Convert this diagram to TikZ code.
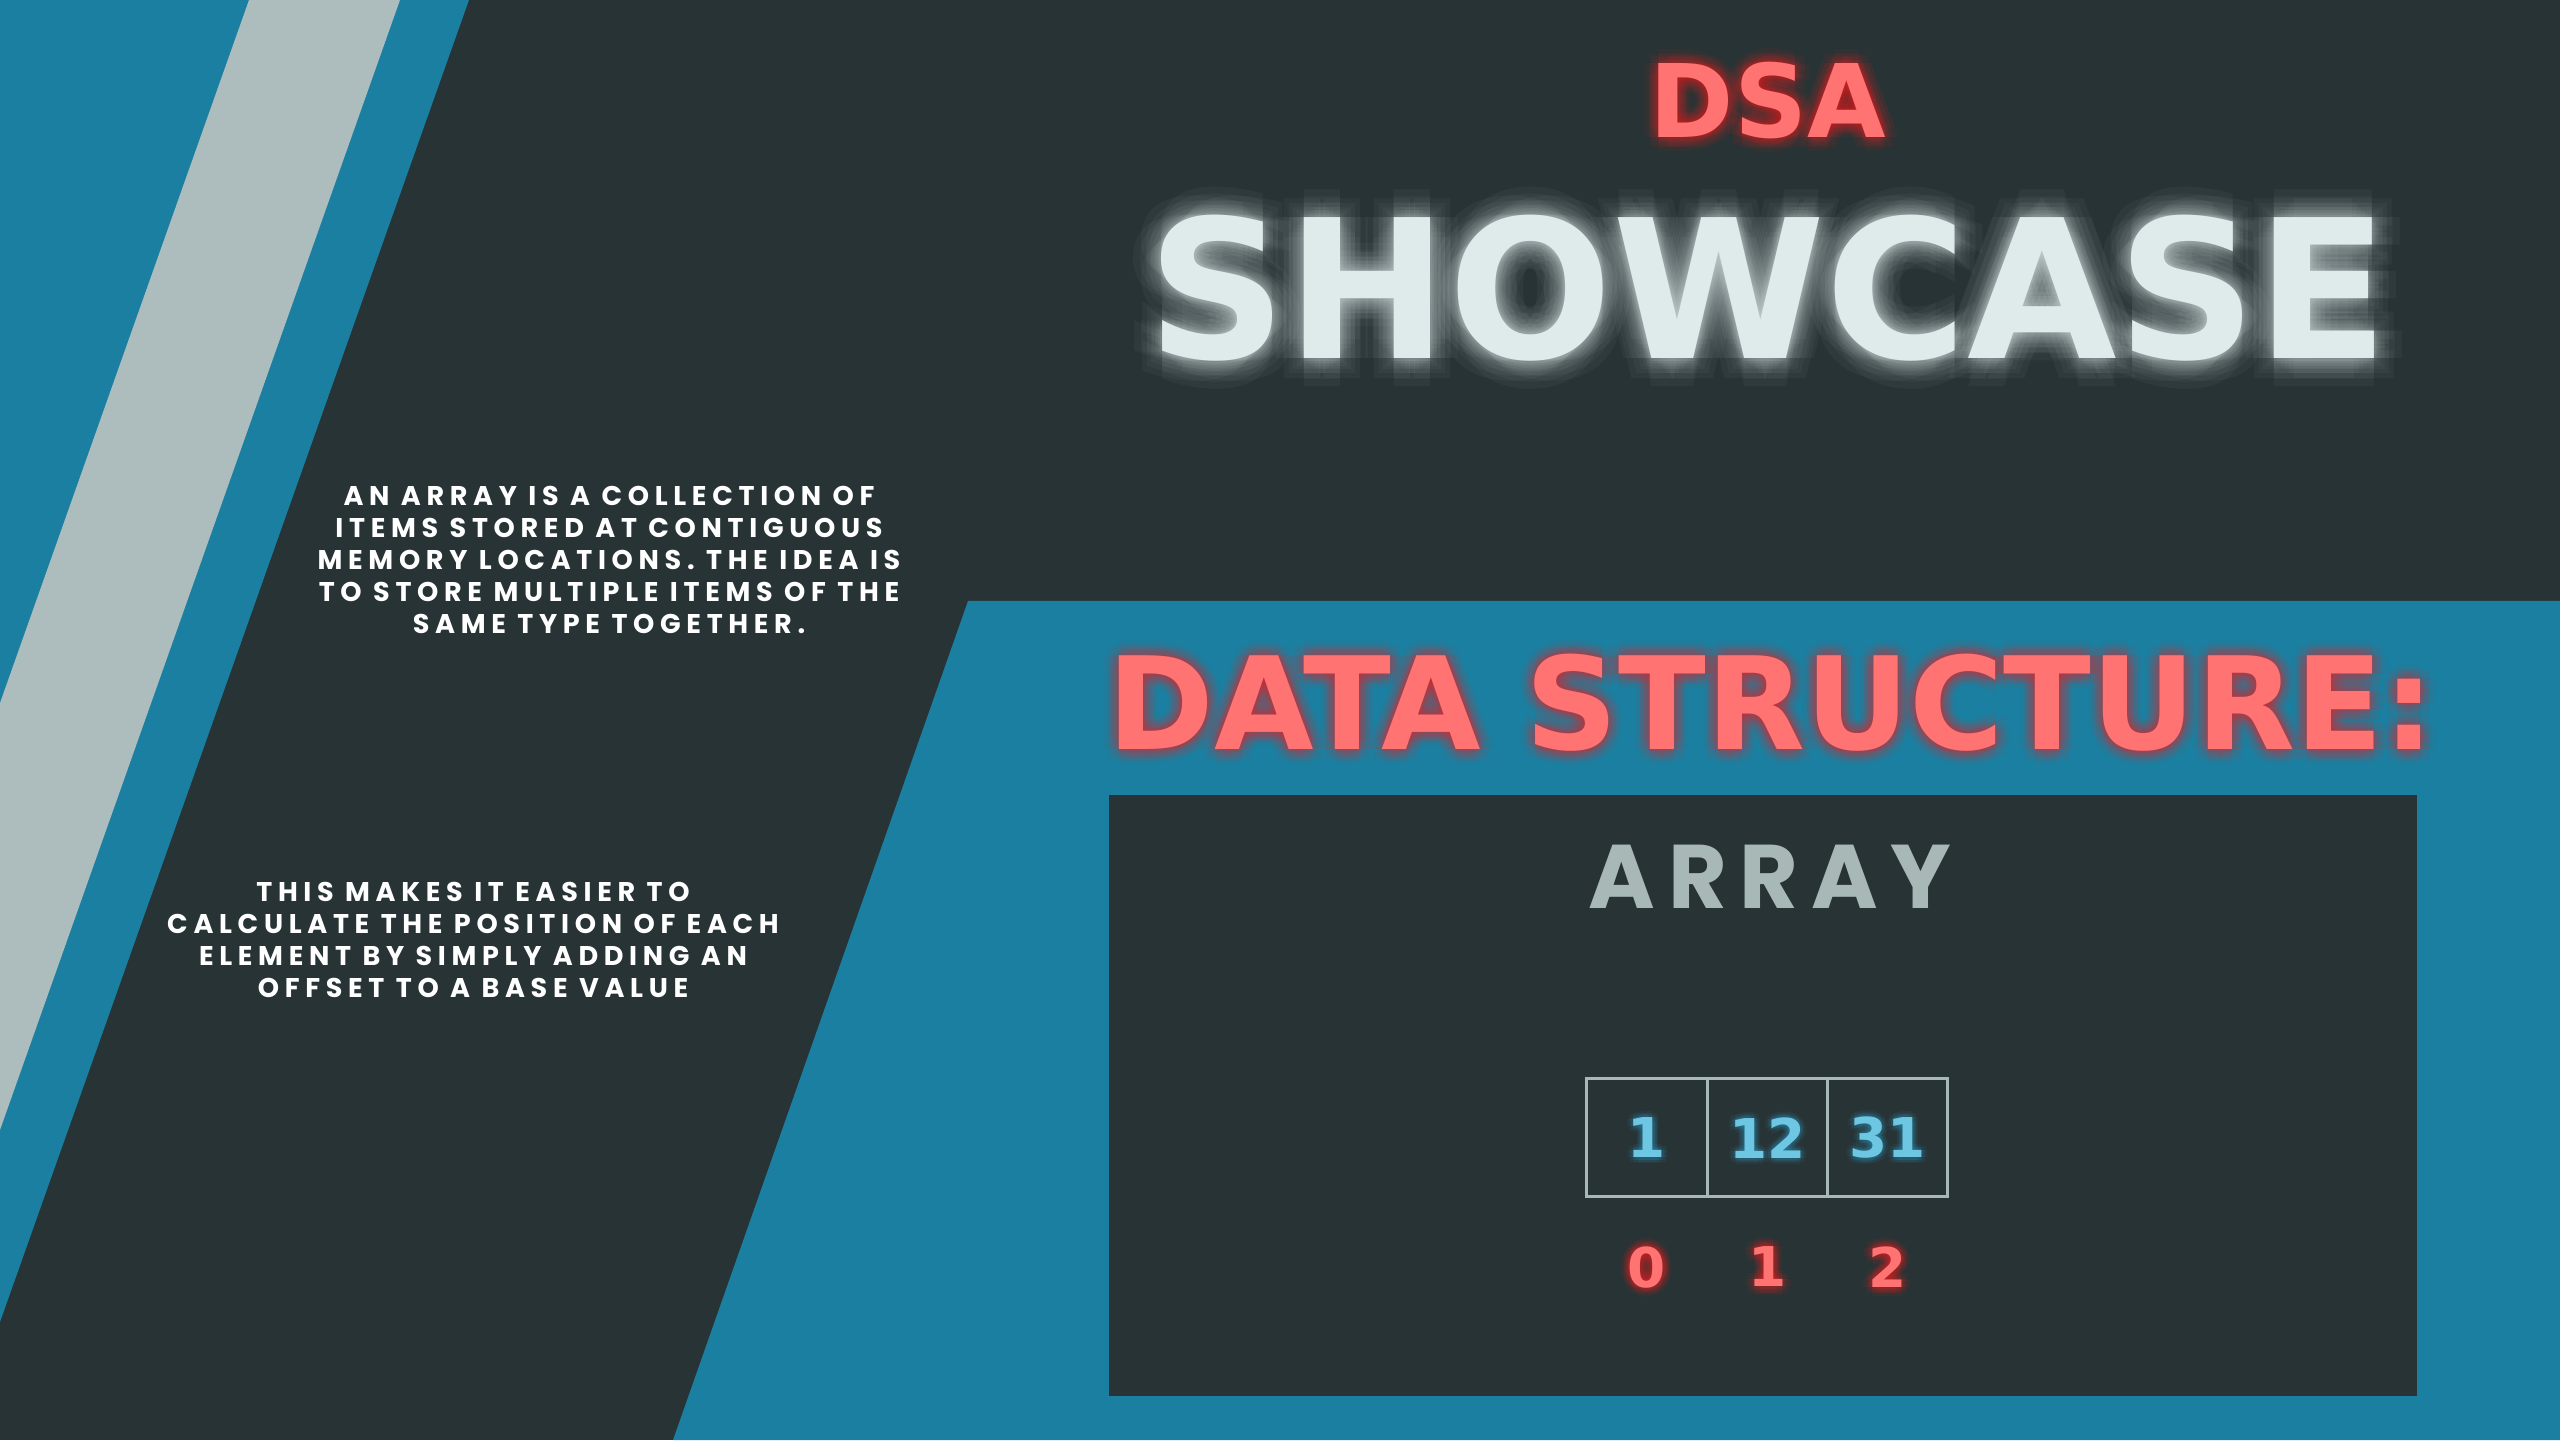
\documentclass[tikz,border=0pt]{standalone}
\usepackage{fontspec}
\setmainfont{Poppins}
\newfontfamily\neonfont{DejaVu Sans}
\newfontfamily\notefont{Poppins}[LetterSpace=21]
\newfontfamily\labelfont{Poppins}[LetterSpace=14]
\usetikzlibrary{positioning}

\definecolor{bgdark}{HTML}{273335}
\definecolor{panelblue}{HTML}{1A7FA0}
\definecolor{stripegray}{HTML}{ADBDBD}
\definecolor{neonred}{HTML}{FF7373}
\definecolor{glowred}{HTML}{FF2020}
\definecolor{neonwhite}{HTML}{DFEBEA}
\definecolor{glowwhite}{HTML}{F4FFFF}
\definecolor{digitblue}{HTML}{6EC7E2}
\definecolor{glowblue}{HTML}{2FA8D8}
\definecolor{cellgray}{HTML}{A8B8B6}

\newcommand\dsafont{\neonfont\bfseries\fontsize{28.9}{30}\selectfont}
\newcommand\showfont{\neonfont\bfseries\fontsize{55}{58}\selectfont}
\newcommand\structfont{\neonfont\bfseries\fontsize{36.6}{38}\selectfont}
\newcommand\digitfont{\neonfont\bfseries\fontsize{15.6}{17}\selectfont}
\newcommand\arrayfont{\labelfont\bfseries\fontsize{25.7}{27}\selectfont}

\pgfdeclarelayer{glow}
\pgfsetlayers{glow,main}

% soft halo: #1 place, #2 style, #3 colour, #4 text, #5 radii, #6 opacity
\newcommand\neonglow[6]{%
  \begin{pgfonlayer}{glow}
  \foreach \rad in {#5}{%
    \foreach \ang in {0,45,...,315}{%
      \node[#2, text=#3, text opacity=#6] at ([shift={(\ang:\rad)}]#1) {#4};
    }}
  \end{pgfonlayer}}

\begin{document}
\begin{tikzpicture}[
    neon/.style={inner sep=0pt, anchor=base},
    note/.style={font=\notefont\bfseries\fontsize{7.7}{9.1}\selectfont, text=white, align=center, inner sep=0pt},
    cell/.style={draw=cellgray, line width=0.3mm, minimum width=1.203cm, minimum height=1.18cm,
      inner sep=0pt, outer sep=0pt, font=\digitfont, text=digitblue},
    index/.style={inner sep=0pt, font=\digitfont, text=neonred},
  ]
  \begin{pgfonlayer}{glow}
  % background
  \fill[bgdark] (0,0) rectangle (25.6,14.4);
  % stripes on the left
  \fill[panelblue] (0,14.4) -- (4.69,14.4) -- (0,1.18) -- cycle;
  \fill[stripegray] (2.49,14.4) -- (4.00,14.4) -- (0,3.10) -- (0,7.37) -- cycle;
  % panel on the right
  \fill[panelblue] (9.68,8.39) -- (25.6,8.39) -- (25.6,0) -- (6.73,0) -- cycle;
  \fill[bgdark] (11.09,0.44) rectangle (24.17,6.45);
  \end{pgfonlayer}
  \useasboundingbox (0,0) rectangle (25.6,14.4);

  % titles
  \coordinate (dsapos) at (17.68,13.02);
  \coordinate (showpos) at (17.68,10.81);
  \coordinate (structpos) at (17.71,6.90);
  \neonglow{dsapos}{neon, font=\dsafont}{glowred}{DSA}{0.03,0.06,0.1,0.14}{0.05}
  \neonglow{showpos}{neon, font=\showfont}{glowwhite}{SHOWCASE}{0.03,0.06,0.1,0.15,0.21,0.28}{0.035}
  \neonglow{structpos}{neon, font=\structfont}{glowred}{DATA STRUCTURE:}{0.03,0.06,0.1,0.14}{0.05}
  \node[neon, font=\dsafont, text=neonred] (dsa) at (dsapos) {DSA};
  \node[neon, font=\showfont, text=neonwhite] (showcase) at (showpos) {SHOWCASE};
  \node[neon, font=\structfont, text=neonred] (struct) at (structpos) {DATA STRUCTURE:};

  % notes on the left
  \node[note] (def) at (6.09,8.80) {AN ARRAY IS A COLLECTION OF\\ITEMS STORED AT CONTIGUOUS\\MEMORY LOCATIONS. THE IDEA IS\\TO STORE MULTIPLE ITEMS OF THE\\SAME TYPE TOGETHER.};
  \node[note] (why) at (4.73,5.00) {THIS MAKES IT EASIER TO\\CALCULATE THE POSITION OF EACH\\ELEMENT BY SIMPLY ADDING AN\\OFFSET TO A BASE VALUE};

  % the array
  \node[neon, font=\arrayfont, text=cellgray] (arraylabel) at (17.70,5.31) {ARRAY};
  \node[cell] (c0) at (16.47,3.02) {1};
  \node[cell, right=0pt of c0] (c1) {12};
  \node[cell, right=0pt of c1] (c2) {31};
  \foreach \i/\v in {0/1,1/12,2/31}{
    \neonglow{c\i.center}{inner sep=0pt, font=\digitfont}{glowblue}{\v}{0.03,0.06}{0.07}
  }
  \foreach \i in {0,1,2}{
    \node[index, below=0.49cm of c\i] (i\i) {\i};
    \neonglow{i\i.center}{inner sep=0pt, font=\digitfont}{glowred}{\i}{0.03,0.06,0.09}{0.07}
  }
\end{tikzpicture}
\end{document}
